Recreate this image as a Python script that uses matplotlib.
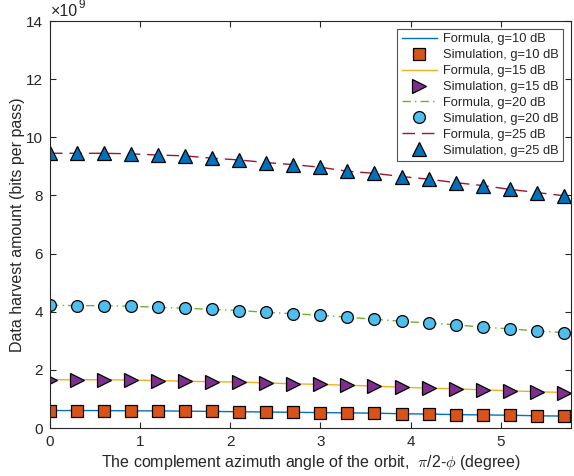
import numpy as np
import matplotlib.pyplot as plt

plt.rcParams['font.family'] = ['Liberation Sans', 'DejaVu Sans']
plt.rcParams['mathtext.fontset'] = 'cm'

# complement azimuth angle (degree)
angle = [0.0, 0.3, 0.6, 0.9, 1.2, 1.5, 1.8, 2.1, 2.4, 2.7,
         3.0, 3.3, 3.6, 3.9, 4.2, 4.5, 4.8, 5.1, 5.4, 5.7]

# data harvest amount, x 1e9 bits per pass
g10 = [0.60, 0.60, 0.60, 0.59, 0.59, 0.58, 0.57, 0.56, 0.55, 0.54,
       0.53, 0.52, 0.51, 0.49, 0.48, 0.46, 0.45, 0.44, 0.42, 0.41]
g15 = [1.66, 1.66, 1.66, 1.65, 1.63, 1.61, 1.59, 1.58, 1.55, 1.52,
       1.50, 1.47, 1.44, 1.40, 1.37, 1.35, 1.31, 1.28, 1.25, 1.22]
g20 = [4.22, 4.21, 4.21, 4.19, 4.15, 4.12, 4.08, 4.04, 3.98, 3.93,
       3.88, 3.81, 3.74, 3.67, 3.61, 3.55, 3.47, 3.41, 3.34, 3.28]
g25 = [9.45, 9.45, 9.45, 9.43, 9.39, 9.36, 9.28, 9.22, 9.13, 9.06,
       8.97, 8.83, 8.76, 8.65, 8.56, 8.44, 8.34, 8.21, 8.10, 7.99]

gains = ['10', '15', '20', '25']
series = [g10, g15, g20, g25]
line_colors = ['#0072BD', '#EDB120', '#77AC30', '#A2142F']
line_styles = ['-', '-', (0, (6, 3, 1, 3)), (0, (9, 5))]
marker_colors = ['#D95319', '#7E2F8E', '#4DBEEE', '#0072BD']
markers = ['s', '>', 'o', '^']
marker_sizes = [8, 9.5, 8.5, 9.5]

fig = plt.figure(figsize=(5.74, 4.76), dpi=100)
ax = fig.add_axes([50 / 574, 1 - 428 / 476, 521 / 574, 407 / 476])

for g, y, lc, ls, mc, m, ms in zip(gains, series, line_colors, line_styles,
                                   marker_colors, markers, marker_sizes):
    ax.plot(angle, y, color=lc, linestyle=ls, linewidth=1.0,
            label=f'Formula, g={g} dB')
    ax.plot(angle, y, linestyle='none', marker=m, markersize=ms,
            markerfacecolor=mc, markeredgecolor='black', markeredgewidth=0.9,
            label=f'Simulation, g={g} dB')

ax.set_xlim(0, 5.78)
ax.set_ylim(0, 14)
ax.set_xticks(range(0, 6))
ax.set_yticks(range(0, 15, 2))

axis_col = '#262626'
for sp in ax.spines.values():
    sp.set_color(axis_col)
    sp.set_linewidth(0.8)
ax.tick_params(direction='in', top=True, right=True, length=4,
               color=axis_col, labelcolor=axis_col, labelsize=11, pad=5)

# exponent label, drawn as plain text like MATLAB
ax.text(0.002, 1.004, '×10', transform=ax.transAxes,
        fontsize=11.5, color=axis_col, va='bottom', ha='left')
ax.text(0.054, 1.024, '9', transform=ax.transAxes,
        fontsize=8.5, color=axis_col, va='bottom', ha='left')

ax.set_xlabel(r'The complement azimuth angle of the orbit,  $\pi$/2-$\phi$ (degree)',
              fontsize=11.5, color=axis_col, labelpad=3)
ax.set_ylabel('Data harvest amount (bits per pass)', fontsize=11.5,
              color=axis_col, labelpad=1)

leg = ax.legend(loc='upper right', fontsize=9.3, frameon=True, fancybox=False,
                borderaxespad=0.6, handlelength=2.7, labelspacing=0.3,
                borderpad=0.35, handletextpad=0.5)
leg.get_frame().set_edgecolor(axis_col)
leg.get_frame().set_linewidth(0.8)
for t in leg.get_texts():
    t.set_color(axis_col)

fig.savefig('out.png', dpi=100)
